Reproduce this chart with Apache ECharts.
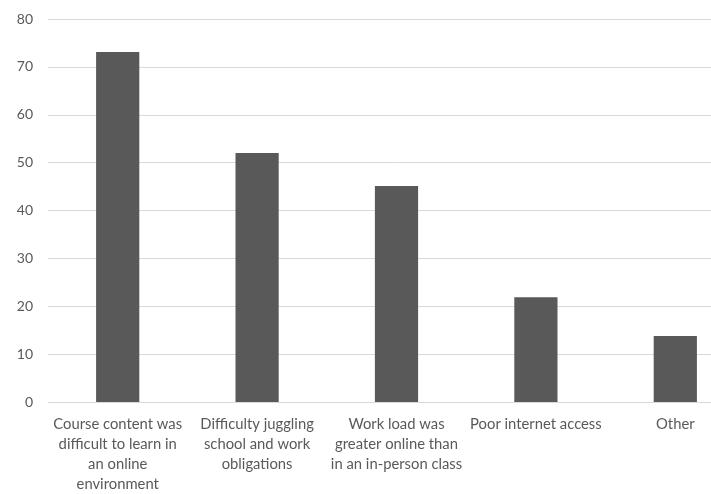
<!DOCTYPE html>
<html>
<head>
<meta charset="utf-8">
<script src="https://cdn.jsdelivr.net/npm/echarts@6/dist/echarts.min.js"></script>
<style>html,body{margin:0;padding:0;background:#fff;overflow:hidden;width:711px;height:494px}#c{width:750px;height:494px}</style>
</head>
<body>
<div id="c"></div>
<script>
var categories = [
  "Course content was\ndifficult to learn in\nan online\nenvironment",
  "Difficulty juggling\nschool and work\nobligations",
  "Work load was\ngreater online than\nin an in-person class",
  "Poor internet access",
  "Other"
];
var values = [73.1, 52.0, 45.1, 21.9, 13.8];
var yTicks = { min: 0, max: 80, interval: 10 };

var chart = echarts.init(document.getElementById('c'), null, { renderer: 'canvas' });
chart.setOption({
  animation: false,
  textStyle: { fontFamily: 'Lato' },
  grid: { left: 48, right: 5, top: 19, bottom: 90, containLabel: false },
  xAxis: {
    type: 'category',
    data: categories,
    axisLine: { show: true, lineStyle: { color: '#d9d9d9', width: 1 } },
    axisTick: { show: false },
    axisLabel: { color: '#595959', fontSize: 14.8, lineHeight: 20, margin: 12, interval: 0, fontFamily: 'Lato' }
  },
  yAxis: {
    type: 'value',
    min: yTicks.min, max: yTicks.max, interval: yTicks.interval,
    axisLine: { show: false },
    axisTick: { show: false },
    splitLine: { lineStyle: { color: '#d9d9d9', width: 1 } },
    axisLabel: { color: '#595959', fontSize: 14, margin: 15, fontFamily: 'Lato' }
  },
  series: [{
    type: 'bar',
    data: values,
    barWidth: '31%',
    itemStyle: { color: '#595959' }
  }]
});
</script>
</body>
</html>
